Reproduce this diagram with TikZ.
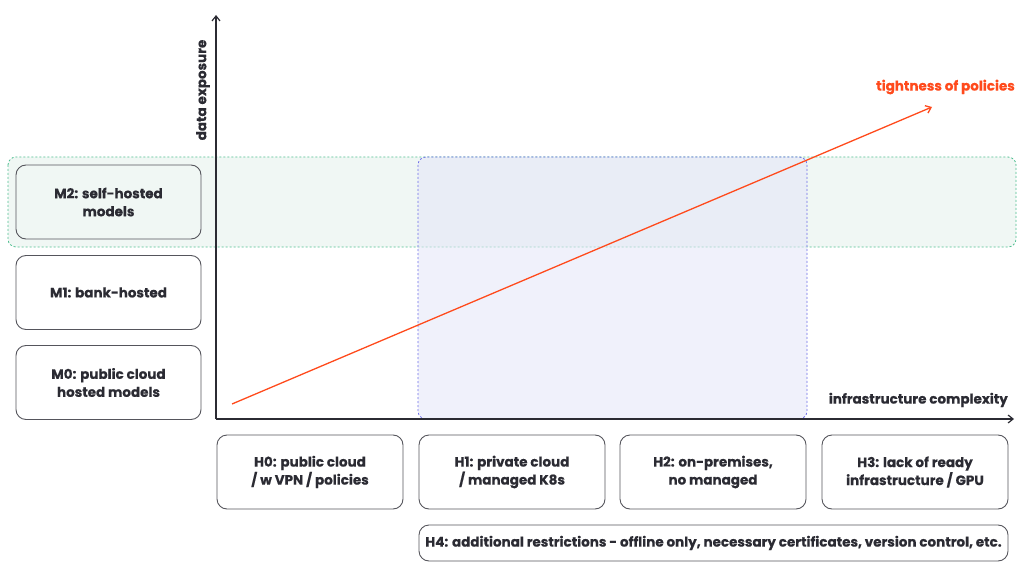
\documentclass[tikz,border=0pt]{standalone}
\usepackage{fontspec}
\setmainfont{Poppins}[BoldFeatures={FakeBold=0.5}]
\usetikzlibrary{arrows.meta}

\definecolor{ink}{HTML}{2B2B33}
\definecolor{frame}{HTML}{55555C}
\definecolor{policy}{HTML}{FF4A1C}
\definecolor{bandline}{HTML}{4FBF90}
\definecolor{bandfill}{HTML}{F0F7F4}
\definecolor{zoneline}{HTML}{6E6EE8}
\definecolor{zonefill}{HTML}{E4E6F8}

\tikzstyle{box}=[draw=frame,line width=0.9pt,rounded corners=10pt,align=center,text=ink,font=\fontsize{13.5}{18}\selectfont\bfseries,inner sep=2pt]
\tikzstyle{mbox}=[box,minimum width=185pt,minimum height=74pt]
\tikzstyle{hbox}=[box,minimum width=186pt,minimum height=74pt]
\tikzstyle{axis}=[draw=ink,line width=1.2pt,-{Straight Barb[length=5pt,width=8pt]}]
\tikzstyle{zone}=[line width=0.8pt,dash pattern=on 2pt off 2pt,rounded corners=8pt]
\tikzstyle{label}=[font=\fontsize{13.5}{16}\selectfont\bfseries,text=ink,inner sep=0pt]

\begin{document}
\begin{tikzpicture}[x=1pt,y=-1pt]
                  \useasboundingbox (0,0) rectangle (1024,577);
                  % First we draw the shaded zones
                  \path[zone,draw=bandline,fill=bandfill] (8,157) rectangle (1016,247);
                  \path[zone,draw=zoneline,fill=zonefill,fill opacity=0.55] (418,157) rectangle (807,419);
                  % Then the model boxes on the left
                  \node[mbox,fill=bandfill] (m2) at (108.5,202) {M2: self-hosted\\models};
                  \foreach \pos/\name/\la in {{(108.5,292.5)/m1/{M1: bank-hosted}},
                  {(108.5,382.5)/m0/{M0: public cloud\\hosted models}}}
                        \node[mbox] (\name) at \pos {\la};
                  % Hosting boxes below the axis
                  \foreach \pos/\name/\la in {{(310,472)/h0/{H0: public cloud\\/ w VPN / policies}},
                  {(512,472)/h1/{H1: private cloud\\/ managed K8s}},
                  {(713,472)/h2/{H2: on-premises,\\no managed}},
                  {(915,472)/h3/{H3: lack of ready\\infrastructure / GPU}}}
                        \node[hbox] (\name) at \pos {\la};
                  \node[box,minimum width=589pt,minimum height=36pt] (h4) at (713.5,543)
                        {H4: additional restrictions - offline only, necessary certificates, version control, etc.};
                  % Axes and their labels
                  \coordinate (origin) at (216,419);
                  \coordinate (ytop) at (216,15);
                  \coordinate (xend) at (1014,419);
                  \path[axis] (origin) -- (ytop);
                  \path[axis] (origin) -- (xend);
                  \node[label,rotate=90] (ylab) at (203,90) {data exposure};
                  \node[label,anchor=east] (xlab) at (1008,400) {infrastructure complexity};
                  % Policy arrow
                  \coordinate (pstart) at (232,404);
                  \coordinate (pend) at (932,107);
                  \path[draw=policy,line width=1.3pt,-{Straight Barb[length=5pt,width=8pt]}] (pstart) -- (pend);
                  \node[label,text=policy,anchor=east] (plab) at (1015,87) {tightness of policies};
            \end{tikzpicture}
\end{document}
